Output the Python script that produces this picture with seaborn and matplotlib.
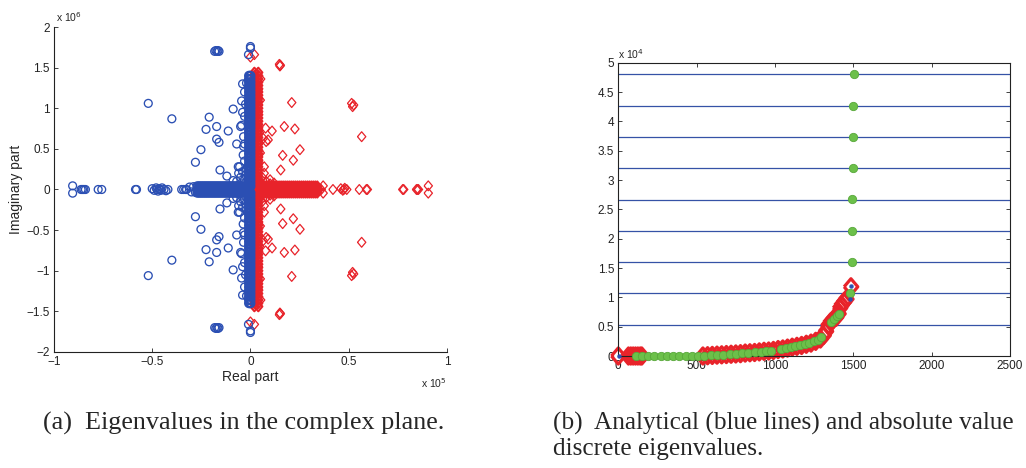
import matplotlib
matplotlib.use("Agg")
import matplotlib.pyplot as plt
import seaborn as sns

# ---------------- (a) eigenvalues in the complex plane ----------------
# real part in units of 1e5, imaginary part in units of 1e6
# scattered blue eigenvalues, upper half plane (lower half = conjugates)
blue_sc_re = [-0.52, -0.40, -0.21, -0.088, -0.045, -0.226, -0.172, -0.113, -0.172, -0.16,
              -0.07, -0.045, -0.252, -0.28, -0.155, -0.12, -0.088, -0.062, -0.037, -0.03,
              -0.03, -0.02, -0.04, -0.05, -0.035, -0.055, 0.0, 0.0, -0.01, -0.182,
              -0.176, -0.17, -0.165, -0.16, -0.06, -0.05, -0.04, -0.03, -0.07, -0.045,
              -0.025, -0.02, -0.035, -0.03, -0.04, -0.025, -0.03]
blue_sc_im = [1.06, 0.87, 0.89, 0.99, 1.09, 0.74, 0.775, 0.72, 0.62, 0.58,
              0.56, 0.79, 0.49, 0.335, 0.24, 0.165, 0.11, 0.28, 0.425, 0.56,
              1.2, 1.31, 1.30, 0.775, 0.53, 0.28, 1.76, 1.74, 1.66, 1.70,
              1.71, 1.70, 1.71, 1.70, 0.2, 0.15, 0.22, 0.12, 0.1, 0.08,
              0.18, 0.25, 0.65, 0.9, 0.95, 1.05, 0.35]
# blue eigenvalues on / next to the real axis
blue_ax_re = [-0.905, -0.905, -0.862, -0.855, -0.848, -0.84, -0.775, -0.757, -0.585, -0.58,
              -0.50, -0.49, -0.48, -0.475, -0.47, -0.465, -0.46, -0.455, -0.45, -0.44,
              -0.43, -0.42, -0.35, -0.34, -0.33, -0.325, -0.31, -0.30, -0.29, -0.28]
blue_ax_im = [0.045, -0.045, 0, 0, 0, 0, 0, 0, 0, 0,
              0.01, -0.01, 0.02, 0, -0.02, 0.01, 0, -0.01, 0.02, 0,
              -0.015, 0, 0, 0, 0, 0, 0.03, -0.03, 0.035, -0.035]
# dense blue cluster along the negative real axis (positions and row offsets)
blue_hb_re = [-0.27, -0.26, -0.25, -0.24, -0.23, -0.22, -0.21, -0.20, -0.19, -0.18,
              -0.17, -0.16, -0.15, -0.14, -0.13, -0.12, -0.11, -0.10, -0.09, -0.08,
              -0.07, -0.06, -0.05, -0.04, -0.03, -0.02, -0.01]
blue_hb_rows = [-0.04, 0.0, 0.04]
# dense blue cluster along the imaginary axis (upper half, two columns)
blue_vb_im = [0.04, 0.08, 0.12, 0.16, 0.20, 0.24, 0.28, 0.32, 0.36, 0.40,
              0.44, 0.48, 0.52, 0.56, 0.60, 0.64, 0.68, 0.72, 0.76, 0.80,
              0.84, 0.88, 0.92, 0.96, 1.00, 1.04, 1.08, 1.12, 1.16, 1.20,
              1.24, 1.28, 1.32, 1.36, 1.40]
blue_vb_cols = [-0.007, 0.0]

# scattered red eigenvalues, upper half plane
red_sc_re = [0.147, 0.152, 0.15, 0.052, 0.04, 0.05, 0.21, 0.515, 0.52, 0.525,
             0.566, 0.172, 0.226, 0.077, 0.11, 0.065, 0.08, 0.09, 0.252, 0.164,
             0.218, 0.154, 0.07, 0.05, 0.0, 0.02, 0.03, 0.03, 0.04, 0.035,
             0.045, 0.03, 0.04, 0.02, 0.04, 0.06, 0.08, 0.1, 0.05, 0.03,
             0.07, 0.1, 0.12]
red_sc_im = [1.54, 1.53, 1.52, 1.36, 1.23, 1.10, 1.07, 1.06, 1.02, 1.04,
             0.65, 0.775, 0.745, 0.755, 0.72, 0.63, 0.59, 0.61, 0.49, 0.42,
             0.36, 0.24, 0.28, 0.45, 1.63, 1.66, 1.30, 1.20, 0.95, 0.75,
             0.70, 0.50, 0.35, 0.25, 0.20, 0.15, 0.10, 0.07, 0.10, 0.15,
             0.20, 0.12, 0.08]
red_ax_re = [0.35, 0.36, 0.37, 0.37, 0.42, 0.46, 0.47, 0.475, 0.48, 0.49,
             0.554, 0.59, 0.595, 0.775, 0.78, 0.845, 0.85, 0.855, 0.905, 0.905]
red_ax_im = [0, 0, 0.045, -0.045, 0, 0.01, -0.01, 0, 0.015, 0,
             0, 0, 0, 0, 0, 0, 0, 0, 0.045, -0.045]
red_hb_re = [0.01, 0.02, 0.03, 0.04, 0.05, 0.06, 0.07, 0.08, 0.09, 0.10,
             0.11, 0.12, 0.13, 0.14, 0.15, 0.16, 0.17, 0.18, 0.19, 0.20,
             0.21, 0.22, 0.23, 0.24, 0.25, 0.26, 0.27, 0.28, 0.29, 0.30,
             0.31, 0.32, 0.33, 0.34]
red_hb_rows = [-0.04, 0.0, 0.04]
red_vb_im = [0.04, 0.08, 0.12, 0.16, 0.20, 0.24, 0.28, 0.32, 0.36, 0.40,
             0.44, 0.48, 0.52, 0.56, 0.60, 0.64, 0.68, 0.72, 0.76, 0.80,
             0.84, 0.88, 0.92, 0.96, 1.00, 1.04, 1.08, 1.12, 1.16, 1.20,
             1.24, 1.28, 1.32, 1.36, 1.40, 1.44]
red_vb_cols = [0.02, 0.04]

a_xticks = [-1, -0.5, 0, 0.5, 1]
a_xlabels = ["\u22121", "\u22120.5", "0", "0.5", "1"]
a_yticks = [-2, -1.5, -1, -0.5, 0, 0.5, 1, 1.5, 2]
a_ylabels = ["\u22122", "\u22121.5", "\u22121", "\u22120.5", "0", "0.5", "1", "1.5", "2"]

# ---------------- (b) analytical vs discrete |eigenvalues| ----------------
# magnitudes in units of 1e4
analytic_abs = [0.533, 1.067, 1.6, 2.133, 2.667, 3.2, 3.733, 4.267, 4.8]
red_idx = [0, 65, 80, 95, 110, 125, 140, 150,
           540, 570, 600, 630, 660, 690, 720, 750, 780, 810,
           840, 870, 900, 930, 960, 990, 1020, 1050, 1080, 1110,
           1140, 1170, 1200, 1230, 1260, 1290, 1310, 1325, 1340, 1355,
           1370, 1390, 1405, 1415, 1425, 1440, 1455, 1485]
red_abs = [0, 0, 0, 0, 0, 0, 0, 0,
           0.0, 0.005, 0.01, 0.015, 0.02, 0.025, 0.03, 0.035, 0.04, 0.05,
           0.055, 0.06, 0.07, 0.08, 0.085, 0.095, 0.11, 0.12, 0.135, 0.15,
           0.165, 0.18, 0.2, 0.22, 0.25, 0.29, 0.35, 0.42, 0.52, 0.58,
           0.62, 0.66, 0.72, 0.82, 0.87, 0.92, 0.97, 1.18]
green_idx = [115, 150, 190, 230, 270, 310, 350, 390, 430, 470,
             510, 550, 590, 630, 670, 710, 750, 790, 830, 870,
             910, 945, 975, 1040, 1070, 1100, 1130, 1160, 1190, 1220,
             1250, 1275, 1295, 1355, 1375, 1395, 1408, 1479,
             1490, 1492, 1494, 1496, 1498, 1500, 1502]
green_abs = [0, 0, 0, 0, 0, 0, 0, 0, 0, 0,
             0, 0.005, 0.01, 0.015, 0.02, 0.03, 0.035, 0.045, 0.05, 0.06,
             0.07, 0.08, 0.09, 0.12, 0.135, 0.15, 0.165, 0.18, 0.2, 0.22,
             0.25, 0.28, 0.32, 0.58, 0.63, 0.68, 0.71, 1.07,
             1.60, 2.13, 2.67, 3.20, 3.73, 4.27, 4.80]
blue_idx = [4, 1479, 1485]
blue_abs = [0.0, 0.97, 1.19]

b_xticks = [0, 500, 1000, 1500, 2000, 2500]
b_yticks = [0, 0.5, 1, 1.5, 2, 2.5, 3, 3.5, 4, 4.5, 5]
b_ylabels = ["0", "0.5", "1", "1.5", "2", "2.5", "3", "3.5", "4", "4.5", "5"]

BLUE = "#2b4fb3"
RED = "#e8232a"
GREEN = "#6cc04a"
LINE = "#3552a6"
diamond = [(-0.85, 0), (0, 1), (0.85, 0), (0, -1), (-0.85, 0)]

sns.set_style("white")
plt.rcParams["font.family"] = ["Liberation Sans", "DejaVu Sans"]
plt.rcParams["axes.unicode_minus"] = True

fig = plt.figure(figsize=(10.26, 4.68), dpi=100)


def conj(re, im):
    # eigenvalues come in conjugate pairs: add the mirrored lower half
    return list(re) + list(re), list(im) + [-v for v in im]


def band_rows(xs, rows):
    return [x for r in rows for x in xs], [r for r in rows for _ in xs]


def band_cols(ys, cols):
    return [c for c in cols for _ in ys], [y for c in cols for y in ys]


# ---- panel (a) ----
ax = fig.add_axes([0.0526, 0.2479, 0.3830, 0.6944])

hollow = dict(facecolor="none", legend=False)

# red: dense clusters, then scattered values
rv_re, rv_im = conj(*band_cols(red_vb_im, red_vb_cols))
rh_re, rh_im = band_rows(red_hb_re, red_hb_rows)
sns.scatterplot(x=rv_re + rh_re, y=rv_im + rh_im, ax=ax, marker=diamond, s=48,
                color=RED, edgecolor=RED, linewidth=1.5, **hollow)
rs_re, rs_im = conj(red_sc_re, red_sc_im)
sns.scatterplot(x=rs_re + red_ax_re, y=rs_im + red_ax_im, ax=ax, marker=diamond, s=50,
                color=RED, edgecolor=RED, linewidth=0.9, **hollow)

# blue on top
bv_re, bv_im = conj(*band_cols(blue_vb_im, blue_vb_cols))
bh_re, bh_im = band_rows(blue_hb_re, blue_hb_rows)
sns.scatterplot(x=bv_re + bh_re, y=bv_im + bh_im, ax=ax, marker="o", s=32,
                color=BLUE, edgecolor=BLUE, linewidth=1.6, **hollow)
bs_re, bs_im = conj(blue_sc_re, blue_sc_im)
sns.scatterplot(x=bs_re + blue_ax_re, y=bs_im + blue_ax_im, ax=ax, marker="o", s=32,
                color=BLUE, edgecolor=BLUE, linewidth=0.95, **hollow)

ax.set_xlim(-1, 1)
ax.set_ylim(-2, 2)
ax.set_xticks(a_xticks)
ax.set_xticklabels(a_xlabels)
ax.set_yticks(a_yticks)
ax.set_yticklabels(a_ylabels)
for s in ["top", "right"]:
    ax.spines[s].set_visible(False)
for s in ["left", "bottom"]:
    ax.spines[s].set_color("#222222")
    ax.spines[s].set_linewidth(0.8)
ax.tick_params(direction="in", length=3, width=0.6, labelsize=8.5, pad=3,
               colors="#222222", left=True, bottom=True)
ax.set_xlabel("Real part", fontsize=10)
ax.set_ylabel("Imaginary part", fontsize=10)
ax.xaxis.set_label_coords(0.5, -0.055)
ax.yaxis.set_label_coords(-0.078, 0.5)
ax.text(0.004, 1.03, "x 10$^6$", transform=ax.transAxes, fontsize=7.5,
        ha="left", va="center")
ax.text(1.0, -0.095, "x 10$^5$", transform=ax.transAxes, fontsize=7.5,
        ha="right", va="center")

# ---- panel (b) ----
bx = fig.add_axes([0.6026, 0.2393, 0.3818, 0.6267])
for v in analytic_abs:
    bx.axhline(v, color=LINE, lw=0.9, zorder=1)
sns.scatterplot(x=red_idx, y=red_abs, ax=bx, marker=diamond, s=135, color=RED,
                edgecolor=RED, linewidth=2.3, clip_on=False, zorder=2, **hollow)
sns.scatterplot(x=green_idx, y=green_abs, ax=bx, marker="o", s=36, color=GREEN,
                edgecolor="#58a83a", linewidth=0.6, clip_on=False, zorder=3, legend=False)
sns.scatterplot(x=blue_idx, y=blue_abs, ax=bx, marker="o", s=8, color=BLUE,
                edgecolor=BLUE, linewidth=0.3, clip_on=False, zorder=4, legend=False)
bx.set_xlim(0, 2500)
bx.set_ylim(0, 5)
bx.set_xticks(b_xticks)
bx.set_yticks(b_yticks)
bx.set_yticklabels(b_ylabels)
for s in bx.spines.values():
    s.set_color("#222222")
    s.set_linewidth(0.8)
bx.tick_params(direction="in", length=3, width=0.6, labelsize=8.5, pad=3,
               colors="#222222", left=True, bottom=True, top=True, right=True)
bx.text(0.0, 1.03, "x 10$^4$", transform=bx.transAxes, fontsize=7.5,
        ha="left", va="center")

# ---- captions ----
serif = ["Liberation Serif", "DejaVu Serif"]
fig.text(43 / 1026, 1 - 430 / 468, "(a)  Eigenvalues in the complex plane.",
         fontsize=18.8, family=serif, va="baseline", ha="left")
fig.text(553 / 1026, 1 - 430 / 468, "(b)  Analytical (blue lines) and absolute value",
         fontsize=18.2, family=serif, va="baseline", ha="left")
fig.text(553 / 1026, 1 - 455 / 468, "discrete eigenvalues.",
         fontsize=18.2, family=serif, va="baseline", ha="left")

fig.savefig("out.png", dpi=100)
